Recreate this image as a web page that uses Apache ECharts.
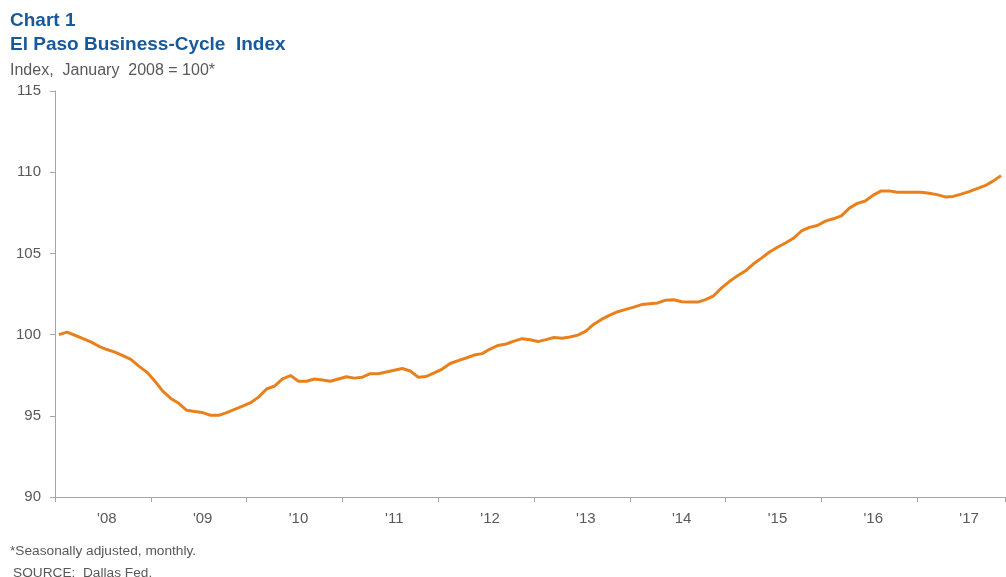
<!DOCTYPE html>
<html>
<head>
<meta charset="utf-8">
<title>El Paso Business-Cycle Index</title>
<script src="https://cdn.jsdelivr.net/npm/echarts@6/dist/echarts.min.js"></script>
<style>
  html, body { margin: 0; padding: 0; background: #fff; }
  #chart { width: 1006px; height: 577px; }
</style>
</head>
<body>
<div id="chart"></div>
<script>
// ---------------------------------------------------------------------------
// data: monthly index, Jan 2008 .. Nov 2017 (Jan 2008 = 100)
// ---------------------------------------------------------------------------
const years = ["'08", "'09", "'10", "'11", "'12", "'13", "'14", "'15", "'16", "'17"];
const monthNames = ["Jan", "Feb", "Mar", "Apr", "May", "Jun", "Jul", "Aug", "Sep", "Oct", "Nov", "Dec"];

const index2008 = [100.0, 100.15, 99.96, 99.75, 99.55, 99.28, 99.08, 98.92, 98.71, 98.47, 98.06, 97.69];
const index2009 = [97.14, 96.52, 96.07, 95.77, 95.34, 95.26, 95.2, 95.03, 95.03, 95.2, 95.4, 95.6];
const index2010 = [95.81, 96.15, 96.65, 96.83, 97.28, 97.48, 97.13, 97.13, 97.27, 97.2, 97.13, 97.27];
const index2011 = [97.4, 97.32, 97.38, 97.59, 97.59, 97.7, 97.81, 97.91, 97.76, 97.38, 97.42, 97.64];
const index2012 = [97.88, 98.22, 98.4, 98.56, 98.74, 98.83, 99.11, 99.33, 99.42, 99.6, 99.75, 99.68];
const index2013 = [99.57, 99.69, 99.82, 99.77, 99.85, 99.97, 100.21, 100.64, 100.95, 101.2, 101.41, 101.55];
const index2014 = [101.69, 101.85, 101.9, 101.95, 102.12, 102.15, 102.02, 102.0, 102.0, 102.15, 102.39, 102.88];
const index2015 = [103.28, 103.62, 103.93, 104.36, 104.71, 105.09, 105.38, 105.64, 105.93, 106.38, 106.6, 106.72];
const index2016 = [106.99, 107.13, 107.31, 107.79, 108.08, 108.23, 108.59, 108.85, 108.85, 108.77, 108.77, 108.77];
const index2017 = [108.77, 108.71, 108.62, 108.48, 108.51, 108.65, 108.8, 108.99, 109.17, 109.45, 109.79];

const yTicks = [90, 95, 100, 105, 110, 115];

// ---------------------------------------------------------------------------
// build category axis + series
// ---------------------------------------------------------------------------
const yearlyValues = [index2008, index2009, index2010, index2011, index2012,
  index2013, index2014, index2015, index2016, index2017];

const categories = [];
const values = [];
yearlyValues.forEach((arr, y) => {
  arr.forEach((v, m) => {
    categories.push(monthNames[m] + " " + years[y]);
    values.push(v);
  });
});

const TITLE_BLUE = "#17599a";
const TEXT_GRAY = "#595959";
const AXIS_GRAY = "#a6a6a6";
const LINE_ORANGE = "#e8801c";
const FONT = "'Liberation Sans', Arial, sans-serif";

const chart = echarts.init(document.getElementById("chart"), null, { renderer: "canvas" });

chart.setOption({
  animation: false,
  backgroundColor: "#fff",
  textStyle: { fontFamily: FONT },
  title: [
    {
      text: "Chart 1",
      left: 10, top: 11, padding: 0,
      textStyle: { fontFamily: FONT, fontSize: 19, fontWeight: "bold", color: TITLE_BLUE },
    },
    {
      text: "El Paso Business-Cycle  Index",
      left: 10, top: 35, padding: 0,
      textStyle: { fontFamily: FONT, fontSize: 19, fontWeight: "bold", color: TITLE_BLUE },
    },
    {
      text: "Index,  January  2008 = 100*",
      left: 10, top: 63, padding: 0,
      textStyle: { fontFamily: FONT, fontSize: 16, fontWeight: "normal", color: TEXT_GRAY },
    },
    {
      text: "*Seasonally adjusted, monthly.",
      left: 10, top: 544, padding: 0,
      textStyle: { fontFamily: FONT, fontSize: 13.7, fontWeight: "normal", color: TEXT_GRAY },
    },
    {
      text: "SOURCE:  Dallas Fed.",
      left: 13, top: 566, padding: 0,
      textStyle: { fontFamily: FONT, fontSize: 13.7, fontWeight: "normal", color: TEXT_GRAY },
    },
  ],
  grid: { left: 55, right: 1, top: 91, bottom: 80, containLabel: false },
  xAxis: {
    type: "category",
    data: categories,
    boundaryGap: true,
    axisLine: { lineStyle: { color: AXIS_GRAY, width: 1 } },
    axisTick: {
      show: true,
      length: 5,
      interval: (i) => i % 12 === 0,
      lineStyle: { color: AXIS_GRAY },
    },
    axisLabel: {
      interval: (i) => i % 12 === 6,
      formatter: (v) => v.split(" ")[1],
      margin: 14,
      color: TEXT_GRAY,
      fontSize: 15,
      fontFamily: FONT,
    },
    splitLine: { show: false },
  },
  yAxis: {
    type: "value",
    min: yTicks[0],
    max: yTicks[yTicks.length - 1],
    interval: 5,
    axisLine: { show: true, lineStyle: { color: AXIS_GRAY, width: 1 } },
    axisTick: { show: true, length: 5, lineStyle: { color: AXIS_GRAY } },
    axisLabel: { margin: 14, color: TEXT_GRAY, fontSize: 15, fontFamily: FONT },
    splitLine: { show: false },
  },
  series: [
    {
      type: "line",
      data: values,
      symbol: "none",
      smooth: false,
      lineStyle: { color: LINE_ORANGE, width: 3 },
      itemStyle: { color: LINE_ORANGE },
    },
  ],
});
</script>
</body>
</html>
